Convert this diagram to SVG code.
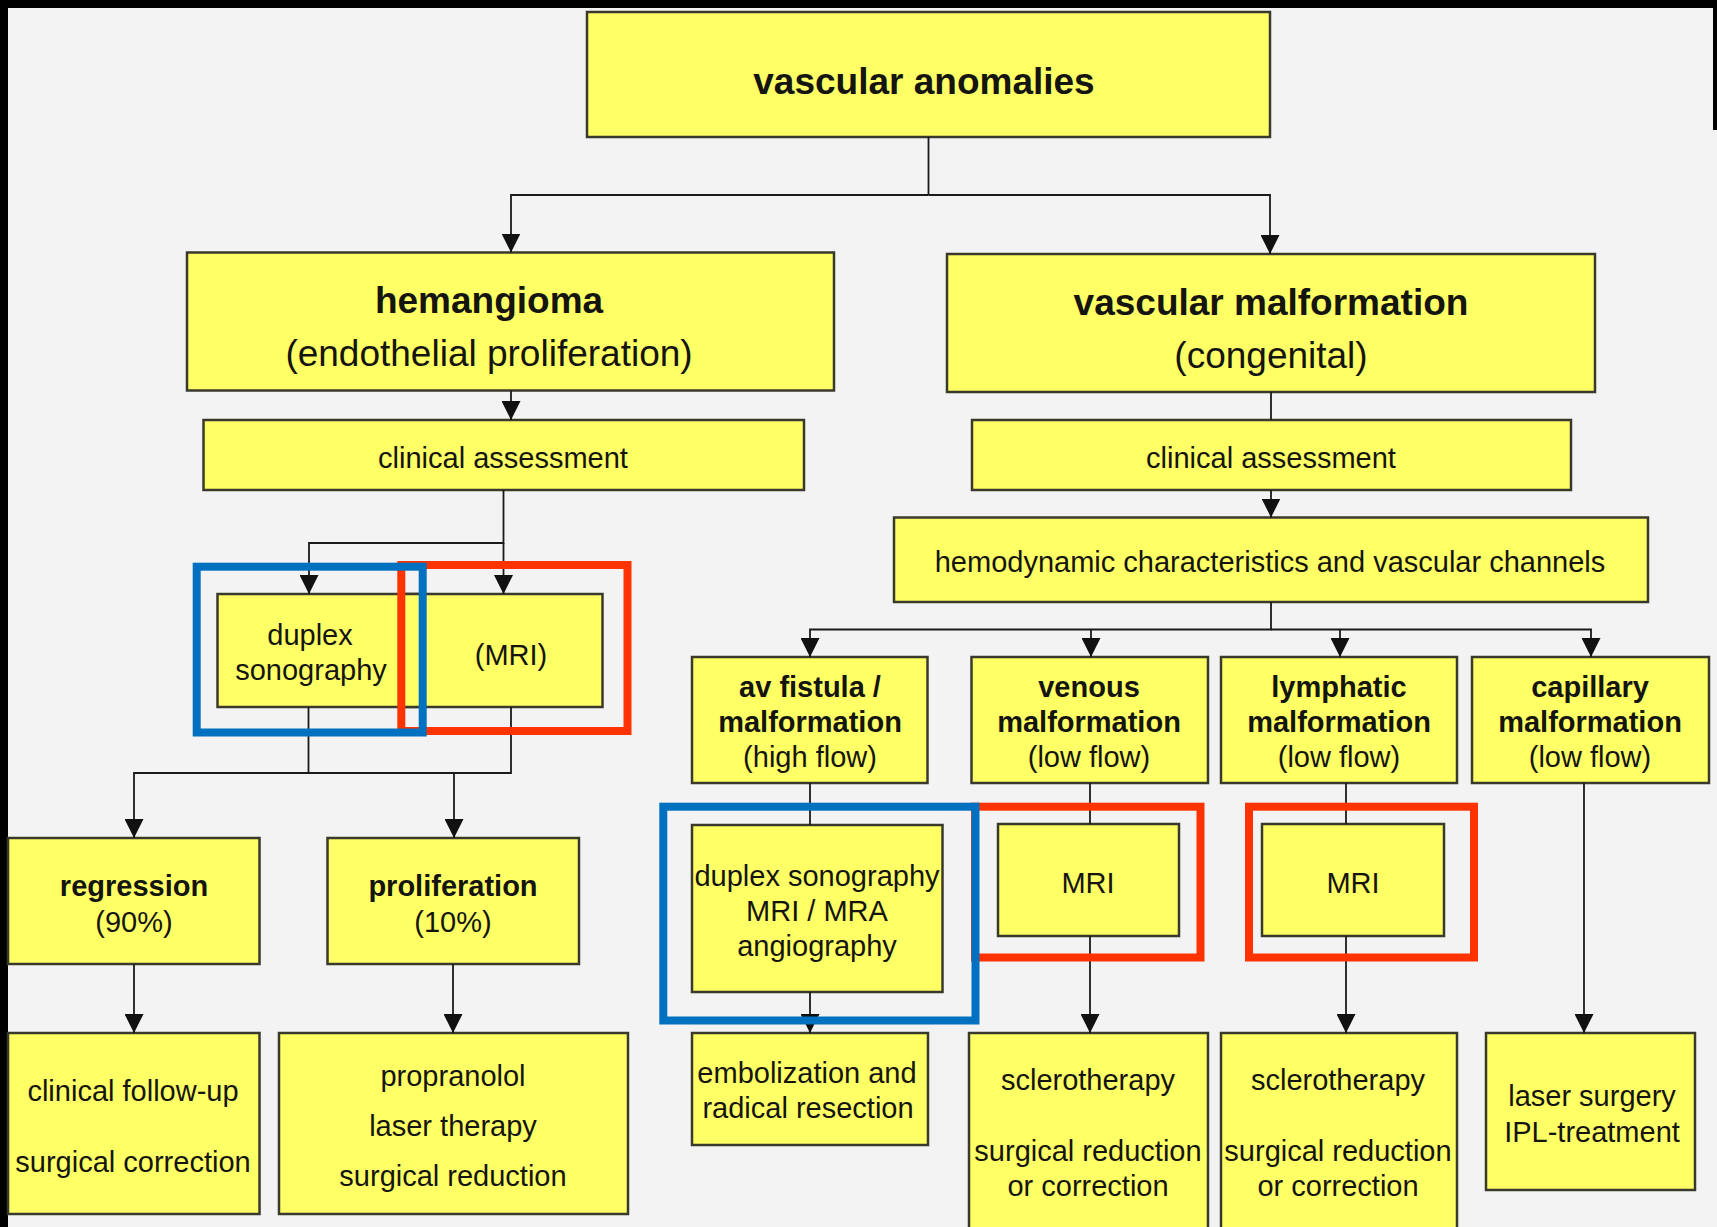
<svg xmlns="http://www.w3.org/2000/svg" width="1717" height="1227" viewBox="0 0 1717 1227">
<style>
.box{fill:#FFFF66;stroke:#3a3a2c;stroke-width:2.5}
.t{font-family:"Liberation Sans",Arial,Helvetica,sans-serif;font-size:29px;fill:#151510;text-anchor:middle}
.b{font-weight:bold}
.big{font-size:37px}
.con{fill:none;stroke:#1a1a1a;stroke-width:1.8}
.arr{marker-end:url(#ah)}
.fb{fill:none;stroke:#0070C0;stroke-width:8}
.fr{fill:none;stroke:#FF3300;stroke-width:8}
</style>
<defs>
<marker id="ah" markerUnits="userSpaceOnUse" viewBox="0 0 19 19" markerWidth="19" markerHeight="19" refX="19" refY="9.5" orient="auto">
<path d="M0,0 L19,9.5 L0,19 z" fill="#111"/>
</marker>
</defs>
<rect x="0" y="0" width="1717" height="1227" fill="#F3F3F3"/>
<rect x="0" y="0" width="8" height="1227" fill="#000"/>
<rect x="0" y="0" width="1717" height="8" fill="#000"/>
<rect x="1713" y="0" width="4" height="130" fill="#000"/>

<g id="n-anomalies"><rect class="box" x="587" y="12" width="683" height="125"/><text class="t b big" x="924" y="94">vascular anomalies</text></g>
<g id="n-hemangioma"><rect class="box" x="187" y="252.5" width="647" height="138"/><text class="t b big" x="489" y="313">hemangioma</text><text class="t big" x="489" y="366">(endothelial proliferation)</text></g>
<g id="n-vascular-malformation"><rect class="box" x="947" y="254" width="648" height="138"/><text class="t b big" x="1271" y="315">vascular malformation</text><text class="t big" x="1271" y="368">(congenital)</text></g>
<g id="n-clinical-left"><rect class="box" x="203.5" y="420" width="600.5" height="70"/><text class="t" x="503" y="468">clinical assessment</text></g>
<g id="n-clinical-right"><rect class="box" x="972" y="420" width="599" height="70"/><text class="t" x="1271" y="468">clinical assessment</text></g>
<g id="n-hemodynamic"><rect class="box" x="894" y="517.5" width="754" height="84.5"/><text class="t" x="1270" y="572">hemodynamic characteristics and vascular channels</text></g>
<g id="n-mri-left"><rect class="box" x="401" y="594" width="201.5" height="113"/><text class="t" x="511" y="665">(MRI)</text></g>
<g id="n-duplex-left"><rect class="box" x="217.5" y="594" width="205.5" height="113"/><text class="t" x="310" y="645">duplex</text><text class="t" x="311" y="680">sonography</text></g>
<g id="n-regression"><rect class="box" x="8" y="838" width="251.5" height="126"/><text class="t b" x="134" y="896">regression</text><text class="t" x="134" y="932">(90%)</text></g>
<g id="n-proliferation"><rect class="box" x="327.5" y="838" width="251.5" height="126"/><text class="t b" x="453" y="896">proliferation</text><text class="t" x="453" y="932">(10%)</text></g>
<g id="n-followup"><rect class="box" x="8" y="1033" width="251.5" height="181"/><text class="t" x="133" y="1101">clinical follow-up</text><text class="t" x="133" y="1172">surgical correction</text></g>
<g id="n-propranolol"><rect class="box" x="279" y="1033" width="349" height="181"/><text class="t" x="453" y="1086">propranolol</text><text class="t" x="453" y="1136">laser therapy</text><text class="t" x="453" y="1186">surgical reduction</text></g>
<g id="n-av-fistula"><rect class="box" x="692" y="657" width="235.5" height="126"/><text class="t b" x="810" y="697">av fistula /</text><text class="t b" x="810" y="732">malformation</text><text class="t" x="810" y="767">(high flow)</text></g>
<g id="n-venous"><rect class="box" x="971.5" y="657" width="236.5" height="126"/><text class="t b" x="1089" y="697">venous</text><text class="t b" x="1089" y="732">malformation</text><text class="t" x="1089" y="767">(low flow)</text></g>
<g id="n-lymphatic"><rect class="box" x="1221" y="657" width="236" height="126"/><text class="t b" x="1339" y="697">lymphatic</text><text class="t b" x="1339" y="732">malformation</text><text class="t" x="1339" y="767">(low flow)</text></g>
<g id="n-capillary"><rect class="box" x="1472" y="657" width="237" height="126"/><text class="t b" x="1590" y="697">capillary</text><text class="t b" x="1590" y="732">malformation</text><text class="t" x="1590" y="767">(low flow)</text></g>
<g id="n-av-imaging"><rect class="box" x="692" y="825" width="250.5" height="167"/><text class="t" x="817" y="886">duplex sonography</text><text class="t" x="817" y="921">MRI / MRA</text><text class="t" x="817" y="956">angiography</text></g>
<g id="n-mri-venous"><rect class="box" x="998" y="824" width="181" height="112"/><text class="t" x="1088" y="893">MRI</text></g>
<g id="n-mri-lymphatic"><rect class="box" x="1262" y="824" width="182" height="112"/><text class="t" x="1353" y="893">MRI</text></g>
<g id="n-embolization"><rect class="box" x="692" y="1033" width="236" height="112"/><text class="t" x="807" y="1083">embolization and</text><text class="t" x="808" y="1118">radical resection</text></g>
<g id="n-sclero-venous"><rect class="box" x="969" y="1033" width="239" height="200"/><text class="t" x="1088" y="1090">sclerotherapy</text><text class="t" x="1088" y="1161">surgical reduction</text><text class="t" x="1088" y="1196">or correction</text></g>
<g id="n-sclero-lymphatic"><rect class="box" x="1221" y="1033" width="236" height="200"/><text class="t" x="1338" y="1090">sclerotherapy</text><text class="t" x="1338" y="1161">surgical reduction</text><text class="t" x="1338" y="1196">or correction</text></g>
<g id="n-laser"><rect class="box" x="1486" y="1033" width="209" height="157"/><text class="t" x="1592" y="1106">laser surgery</text><text class="t" x="1592" y="1142">IPL-treatment</text></g>

<g id="connectors">
<path class="con" d="M928.5 137 V195"/>
<path class="con arr" d="M928.5 195 H511 V252.5"/>
<path class="con arr" d="M928.5 195 H1270 V254"/>
<path class="con arr" d="M511 390.5 V420"/>
<path class="con" d="M1271 392 V420"/>
<path class="con arr" d="M1271 490 V517.5"/>
<path class="con arr" d="M503.5 490 V543 H309 V594"/>
<path class="con arr" d="M503.5 543 V594"/>
<path class="con arr" d="M1271 602 V629.5 H810 V657"/>
<path class="con arr" d="M1271 629.5 H1591 V657"/>
<path class="con arr" d="M1091 629.5 V657"/>
<path class="con arr" d="M1340 629.5 V657"/>
<path class="con arr" d="M308.5 707 V773 H134 V838"/>
<path class="con" d="M511 707 V773 H308.5"/>
<path class="con arr" d="M454 773 V838"/>
<path class="con arr" d="M134 964 V1033"/>
<path class="con arr" d="M453 964 V1033"/>
<path class="con" d="M810 783 V825"/>
<path class="con arr" d="M810 992 V1033"/>
<path class="con" d="M1090 783 V824"/>
<path class="con arr" d="M1090 936 V1033"/>
<path class="con" d="M1346 783 V824"/>
<path class="con arr" d="M1346 936 V1033"/>
<path class="con arr" d="M1584 783 V1033"/>
</g>

<g id="highlights">
<rect class="fr" x="401.3" y="565" width="226.2" height="166"/>
<rect class="fr" x="975" y="806.7" width="225.5" height="150.8"/>
<rect class="fr" x="1249" y="806.7" width="225" height="150.8"/>
<rect class="fb" x="196.7" y="566.7" width="226" height="165.8"/>
<rect class="fb" x="663.3" y="806.7" width="312.2" height="213.8"/>
</g>
</svg>
